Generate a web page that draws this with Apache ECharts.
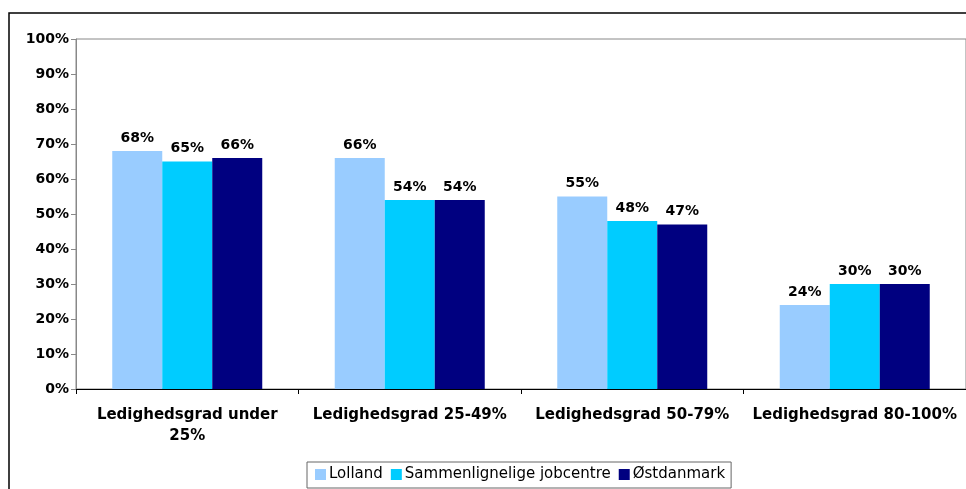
<!DOCTYPE html>
<html lang="da">
<head>
    <meta charset="UTF-8">
    <title>Ledighedsgrad</title>
    <script src="https://cdn.jsdelivr.net/npm/echarts@6/dist/echarts.min.js"></script>
    <style>
        html, body { margin: 0; padding: 0; background: #fff; }
        #main { width: 966px; height: 489px; }
    </style>
</head>
<body>
<div id="main"></div>
<script type="text/javascript">
    // data
    var categories = ['Ledighedsgrad under\n25%', 'Ledighedsgrad 25-49%', 'Ledighedsgrad 50-79%', 'Ledighedsgrad 80-100%'];
    var seriesNames = ['Lolland', 'Sammenlignelige jobcentre', 'Østdanmark'];
    var lolland = [68, 66, 55, 24];
    var jobcentre = [65, 54, 48, 30];
    var oestdanmark = [66, 54, 47, 30];
    var colors = ['#99CCFF', '#00CCFF', '#000080'];

    var chart = echarts.init(document.getElementById('main'));
    var font = 'DejaVu Sans, Verdana, sans-serif';

    var values = [lolland, jobcentre, oestdanmark];
    var series = values.map(function (d, i) {
        return {
            name: seriesNames[i],
            type: 'bar',
            data: d,
            barWidth: 50,
            barGap: '0%',
            itemStyle: { color: colors[i] },
            label: {
                show: true,
                position: 'top',
                distance: 6,
                formatter: '{c}%',
                color: '#000',
                fontWeight: 'bold',
                fontSize: 14,
                fontFamily: font
            }
        };
    });

    var option = {
        animation: false,
        backgroundColor: '#fff',
        textStyle: { fontFamily: font },
        graphic: [{
            // outer chart border
            type: 'rect',
            shape: { x: 9, y: 13, width: 980, height: 500 },
            style: { fill: 'none', stroke: '#000', lineWidth: 1.5 },
            silent: true
        }],
        grid: {
            left: 76,
            top: 39,
            right: 0,
            bottom: 100,
            show: true,
            borderColor: '#888',
            borderWidth: 1
        },
        legend: {
            data: seriesNames,
            left: 307,
            top: 462,
            itemWidth: 11,
            itemHeight: 11,
            itemGap: 8,
            icon: 'rect',
            padding: [5, 6, 6, 8],
            borderColor: '#666',
            borderWidth: 1,
            borderRadius: 0,
            textStyle: { color: '#000', fontSize: 15, fontFamily: font, padding: [0, 0, 0, -2] }
        },
        xAxis: {
            type: 'category',
            data: categories,
            axisLine: { lineStyle: { color: '#000', width: 1 } },
            axisTick: { show: true, length: 5, lineStyle: { color: '#000' } },
            axisLabel: {
                interval: 0,
                hideOverlap: false,
                color: '#000',
                fontWeight: 'bold',
                fontSize: 15,
                fontFamily: font,
                margin: 16,
                lineHeight: 21
            }
        },
        yAxis: {
            type: 'value',
            min: 0,
            max: 100,
            interval: 10,
            axisLine: { show: true, lineStyle: { color: '#888' } },
            axisTick: { show: true, length: 5, lineStyle: { color: '#888' } },
            splitLine: { show: false },
            axisLabel: {
                formatter: '{value}%',
                color: '#000',
                fontWeight: 'bold',
                fontSize: 14,
                fontFamily: font,
                margin: 7
            }
        },
        series: series
    };

    chart.setOption(option);
</script>
</body>
</html>
